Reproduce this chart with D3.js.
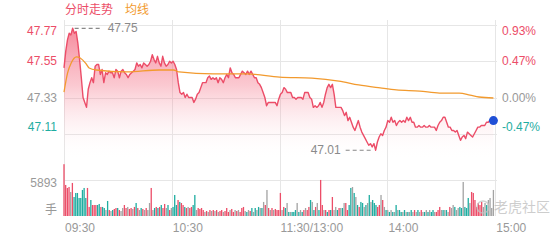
<html lang="zh">
<head>
    <title>分时走势</title>
    <script src="https://d3js.org/d3.v7.min.js"></script>
    <style>
        body { margin: 0; background: #fff; }
        text { font-family: "Liberation Sans", Arial, "Noto Sans CJK SC", sans-serif; }
    </style>
</head>
<body>
<div id="chart"></div>
<script>
// tick labels
var timeLabels = ["09:30", "10:30", "11:30/13:00", "14:00", "15:00"];
var timeTicks = [0, 60, 120, 180, 240];
var priceTicks = [47.77, 47.55, 47.33, 47.11];
var pctLabels = ["0.93%", "0.47%", "0.00%", "-0.47%"];
var volTick = 5893;

// minute prices
var prices = [
  47.51,47.61,47.68,47.72,47.71,47.75,47.72,47.73,47.66,47.56,47.45,47.33,47.30,47.27,47.38,47.42,47.45,47.42,47.52,47.53,
  47.53,47.47,47.50,47.42,47.48,47.47,47.49,47.48,47.48,47.45,47.50,47.49,47.45,47.49,47.50,47.48,47.47,47.45,47.47,47.48,
  47.49,47.50,47.54,47.52,47.53,47.51,47.54,47.53,47.52,47.53,47.55,47.59,47.56,47.54,47.58,47.54,47.52,47.58,47.54,47.52,
  47.53,47.55,47.54,47.55,47.53,47.50,47.42,
  47.36,47.35,47.36,47.33,47.35,47.33,47.33,47.33,47.30,47.32,47.35,47.36,47.39,47.42,47.42,47.42,47.45,47.46,47.44,47.45,
  47.44,47.45,47.42,47.45,47.44,47.42,47.45,47.47,47.45,47.51,47.48,47.47,47.45,47.45,47.45,47.47,47.49,47.48,47.47,47.49,
  47.47,47.49,47.47,47.45,47.45,47.42,47.41,47.39,47.36,47.33,47.28,47.30,47.30,47.30,47.30,47.30,47.28,47.32,47.35,47.36,
  47.39,
  47.38,47.36,47.36,47.36,47.33,47.33,47.32,47.33,47.33,47.33,47.32,47.36,47.36,47.36,47.33,47.32,47.27,47.28,47.27,47.28,
  47.30,47.27,47.30,47.35,47.39,47.41,47.39,47.41,47.35,47.27,47.27,47.27,47.27,47.25,47.22,47.24,47.19,47.21,47.18,47.15,
  47.13,47.16,47.19,47.15,47.12,47.10,47.08,47.06,47.04,47.05,47.03,47.05,47.01,47.06,47.09,47.11,
  47.10,47.13,47.15,47.19,47.18,47.21,47.18,47.19,47.16,47.18,47.19,47.18,47.19,47.18,47.21,47.19,47.21,47.18,47.18,47.15,
  47.15,47.16,47.15,47.15,47.16,47.15,47.15,47.16,47.15,47.15,47.15,47.13,47.16,47.18,47.19,47.21,47.21,47.18,47.15,47.15,
  47.13,47.13,47.12,47.13,47.10,47.07,47.09,47.10,47.08,47.12,47.11,47.10,47.09,47.11,47.13,47.15,47.15,47.16,47.16,47.16,
  47.18,47.18,47.19,47.18,47.19
];

// average line: minute, price
var avgMinutes = [0, 2, 4, 7, 9, 12, 14, 18, 35, 53, 61, 64, 83, 102, 120, 138, 153, 164, 176, 185, 198, 209, 220, 226, 231, 239];
var avgPrices = [47.363, 47.479, 47.539, 47.576, 47.570, 47.539, 47.509, 47.497, 47.485, 47.497, 47.497, 47.485, 47.473, 47.473,
  47.454, 47.448, 47.430, 47.406, 47.388, 47.376, 47.369, 47.357, 47.357, 47.345, 47.333, 47.327];

// volume per bar (手) and colour: r = up, g = down, n = flat
var volumes = [
  8480,5080,4590,4750,3930,5410,3110,3770,3770,2950,2950,4260,4590,2950,4590,1480,2620,1800,1800,1800,
  1800,1970,1480,1480,1310,980,2460,980,820,980,1150,1310,1310,980,820,1310,1800,1310,1480,1150,
  1310,1150,1480,2130,1310,980,1310,1150,980,1310,980,2130,4590,980,1310,1480,1310,1480,1800,1310,
  1970,1310,1800,980,1310,1480,
  3440,1800,2620,2300,2130,1800,1480,1310,1480,1310,1480,1800,3440,980,1310,1150,1310,980,660,820,
  660,980,820,980,820,980,660,820,980,660,820,1310,660,980,1150,660,980,820,980,660,
  1310,1480,820,660,980,820,1310,660,1310,980,1480,1310,1310,2300,1800,4260,1310,980,1310,980,
  1150,980,980,3770,
  980,1480,1310,2130,660,660,660,660,980,2130,660,980,660,980,1310,980,1480,2620,2300,980,
  1480,2130,980,5900,1800,980,980,660,980,980,3110,980,1480,980,1310,1310,1310,2130,2130,980,
  1800,4590,4750,3770,3110,1800,1480,2300,2130,1480,1800,2130,3440,2300,2620,2130,1800,1480,1800,3440,
  2620,1480,980,980,660,980,660,660,1800,980,980,660,660,980,660,660,660,980,660,980,
  660,980,660,980,660,660,980,660,980,660,980,660,660,980,1480,980,980,980,980,660,
  1480,1310,1800,1480,980,1310,1480,1310,5570,1480,1310,2950,2130,3930,3770,2620,1480,2130,1800,2300,
  1480,2130,1800,2620,2950,1310,4260
];
var volColors =
  "rrrrnrggggggggrrgrrrggrggngrngrrgrnnrrnrrnrgrngrnrnnrngrgrgrrngrng" +
  "ggrgrrgrnrrggnrrrrnrnrnrnrnrrnrrrnrrnrnrrrngnrgngngngnrnrnrnrr" +
  "rrnrgngngggngngrnrrgngrngrrnrgrgrnngrngnrrggngngrggngngngggrrnrngngngngnggngngngnrngnrngngnggnrrrngngnrnngnnggngggnrrrrrrrnng";

var width = 560, height = 240;
var red = "#ec4d68", teal = "#1fada1", grey = "#999", orange = "#f29a2e";

var svg = d3.select("#chart").append("svg")
    .attr("width", width)
    .attr("height", height);

// scales
var x = d3.scaleLinear().domain([0, 241]).range([64, 497]);
var y = d3.scaleLinear().domain([46.89, 47.77]).range([170, 25]);
var yv = d3.scaleLinear().domain([0, volTick]).range([216, 180]);

var n = prices.length;
var pts = prices.map(function(p, i) { return { m: i * 239 / (n - 1), p: p }; });

// gradient for price area
var defs = svg.append("defs");
var grad = defs.append("linearGradient")
    .attr("id", "fillGrad")
    .attr("gradientUnits", "userSpaceOnUse")
    .attr("x1", 0).attr("y1", 25).attr("x2", 0).attr("y2", 160);
grad.append("stop").attr("offset", "0%").attr("stop-color", "#f03c5a").attr("stop-opacity", 0.62);
grad.append("stop").attr("offset", "45%").attr("stop-color", "#f46a80").attr("stop-opacity", 0.36);
grad.append("stop").attr("offset", "100%").attr("stop-color", "#ffffff").attr("stop-opacity", 0);

// grid
svg.append("g").selectAll("line.h")
  .data(priceTicks)
  .enter().append("line")
    .attr("x1", 64).attr("x2", 497)
    .attr("y1", function(d) { return Math.round(y(d)) + 0.5; })
    .attr("y2", function(d) { return Math.round(y(d)) + 0.5; })
    .attr("stroke", "#e6e6e6");
svg.append("line")
    .attr("x1", 64).attr("x2", 497)
    .attr("y1", Math.round(yv(volTick)) + 0.5).attr("y2", Math.round(yv(volTick)) + 0.5)
    .attr("stroke", "#e6e6e6");
svg.append("g").selectAll("line.v")
  .data(timeTicks)
  .enter().append("line")
    .attr("x1", function(d) { return Math.round(x(d)) + 0.5; })
    .attr("x2", function(d) { return Math.round(x(d)) + 0.5; })
    .attr("y1", 20).attr("y2", 216)
    .attr("stroke", "#e6e6e6");

// price area + line
var area = d3.area()
    .x(function(d) { return x(d.m); })
    .y0(165)
    .y1(function(d) { return y(d.p); });
svg.append("path").datum(pts)
    .attr("d", area)
    .attr("fill", "url(#fillGrad)");

var line = d3.line()
    .x(function(d) { return x(d.m); })
    .y(function(d) { return y(d.p); });
svg.append("path").datum(pts)
    .attr("d", line)
    .attr("fill", "none")
    .attr("stroke", red)
    .attr("stroke-width", 1.4)
    .attr("stroke-linejoin", "round");

// average line
var avgLine = d3.line()
    .curve(d3.curveMonotoneX)
    .x(function(d, i) { return x(avgMinutes[i]); })
    .y(function(d) { return y(d); });
svg.append("path").datum(avgPrices)
    .attr("d", avgLine)
    .attr("fill", "none")
    .attr("stroke", orange)
    .attr("stroke-width", 1.3);

// last point
var last = pts[n - 1];
svg.append("circle")
    .attr("cx", x(last.m)).attr("cy", y(last.p))
    .attr("r", 4.5)
    .attr("fill", "#1f4fd6");

// max / min markers
var maxPt = pts.reduce(function(a, b) { return b.p > a.p ? b : a; });
var minPt = pts.reduce(function(a, b) { return b.p < a.p ? b : a; });
svg.append("line")
    .attr("x1", x(maxPt.m) + 2).attr("x2", x(maxPt.m) + 30)
    .attr("y1", y(maxPt.p)).attr("y2", y(maxPt.p))
    .attr("stroke", "#888").attr("stroke-dasharray", "4,3").attr("stroke-width", 1.2);
svg.append("text")
    .attr("x", x(maxPt.m) + 35).attr("y", y(maxPt.p))
    .attr("dy", "0.35em")
    .attr("font-size", 12).attr("fill", "#8a8a8a")
    .text(maxPt.p.toFixed(2));
svg.append("line")
    .attr("x1", x(minPt.m) - 30).attr("x2", x(minPt.m) - 2)
    .attr("y1", y(minPt.p)).attr("y2", y(minPt.p))
    .attr("stroke", "#888").attr("stroke-dasharray", "4,3").attr("stroke-width", 1.2);
svg.append("text")
    .attr("x", x(minPt.m) - 35).attr("y", y(minPt.p))
    .attr("dy", "0.35em")
    .attr("text-anchor", "end")
    .attr("font-size", 12).attr("fill", "#8a8a8a")
    .text(minPt.p.toFixed(2));

// volume bars
var nv = volumes.length;
svg.append("g").selectAll("rect")
  .data(volumes)
  .enter().append("rect")
    .attr("x", function(d, i) { return x(i * 239 / (nv - 1)) - 0.65; })
    .attr("width", 1.3)
    .attr("y", function(d) { return yv(d); })
    .attr("height", function(d) { return yv(0) - yv(d); })
    .attr("fill", function(d, i) {
        var c = volColors.charAt(i);
        return c === "r" ? red : c === "g" ? teal : "#a3a3a3";
    });

// axis labels
function tickColor(i) { return i < 2 ? red : i === 2 ? grey : teal; }
function tickDy(i) { return i === 0 ? 6 : i === 3 ? -7 : 0; }
svg.append("g").selectAll("text")
  .data(priceTicks)
  .enter().append("text")
    .attr("x", 57)
    .attr("y", function(d, i) { return y(d) + tickDy(i); })
    .attr("dy", "0.35em")
    .attr("text-anchor", "end")
    .attr("font-size", 12)
    .attr("fill", function(d, i) { return tickColor(i); })
    .text(function(d) { return d.toFixed(2); });
svg.append("g").selectAll("text")
  .data(pctLabels)
  .enter().append("text")
    .attr("x", 502)
    .attr("y", function(d, i) { return y(priceTicks[i]) + tickDy(i); })
    .attr("dy", "0.35em")
    .attr("font-size", 12)
    .attr("fill", function(d, i) { return tickColor(i); })
    .text(function(d) { return d; });

svg.append("text")
    .attr("x", 57).attr("y", yv(volTick) + 3)
    .attr("dy", "0.35em")
    .attr("text-anchor", "end")
    .attr("font-size", 12).attr("fill", grey)
    .text(volTick);
svg.append("text")
    .attr("x", 57).attr("y", 210)
    .attr("dy", "0.35em")
    .attr("text-anchor", "end")
    .attr("font-size", 12).attr("fill", grey)
    .text("手");

svg.append("g").selectAll("text")
  .data(timeTicks)
  .enter().append("text")
    .attr("x", function(d) { return x(d) + 1; })
    .attr("y", 228)
    .attr("dy", "0.35em")
    .attr("font-size", 12)
    .attr("fill", grey)
    .text(function(d, i) { return timeLabels[i]; });

// legend
svg.append("text")
    .attr("x", 65).attr("y", 10).attr("dy", "0.35em")
    .attr("font-size", 12).attr("fill", red)
    .text("分时走势");
svg.append("text")
    .attr("x", 125).attr("y", 10).attr("dy", "0.35em")
    .attr("font-size", 12).attr("fill", orange)
    .text("均线");

// watermark
var wm = svg.append("g").attr("opacity", 0.75);
wm.append("circle")
    .attr("cx", 483).attr("cy", 207).attr("r", 6)
    .attr("fill", "none").attr("stroke", "#c4c4c4").attr("stroke-width", 1.5);
wm.append("text")
    .attr("x", 494).attr("y", 207).attr("dy", "0.35em")
    .attr("font-size", 14).attr("fill", "#bdbdbd")
    .text("老虎社区");
</script>
</body>
</html>
